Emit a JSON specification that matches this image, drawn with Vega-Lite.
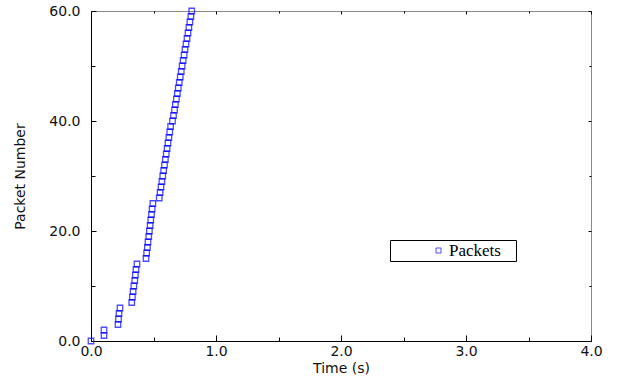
{
  "$schema": "https://vega.github.io/schema/vega-lite/v6.json",
  "width": 500,
  "height": 330,
  "autosize": "none",
  "padding": {"left": 91, "top": 11, "right": 30, "bottom": 46},
  "background": "white",
  "config": {
    "view": {"stroke": "#8a8a8a", "strokeWidth": 1},
    "axis": {
      "labelFont": "DejaVu Sans",
      "labelFontSize": 14,
      "labelColor": "#111",
      "labelFlush": false,
      "titleFont": "DejaVu Sans",
      "titleFontSize": 14,
      "titleFontWeight": "normal",
      "titleColor": "#111",
      "domainColor": "#000",
      "tickColor": "#000",
      "grid": false
    }
  },
  "data": {
    "values": [
      {"t": 0.0, "n": 0, "series": "Packets"},
      {"t": 0.104, "n": 1, "series": "Packets"},
      {"t": 0.104, "n": 2, "series": "Packets"},
      {"t": 0.216, "n": 3, "series": "Packets"},
      {"t": 0.22, "n": 4, "series": "Packets"},
      {"t": 0.224, "n": 5, "series": "Packets"},
      {"t": 0.232, "n": 6, "series": "Packets"},
      {"t": 0.326, "n": 7, "series": "Packets"},
      {"t": 0.331, "n": 8, "series": "Packets"},
      {"t": 0.337, "n": 9, "series": "Packets"},
      {"t": 0.343, "n": 10, "series": "Packets"},
      {"t": 0.35, "n": 11, "series": "Packets"},
      {"t": 0.355, "n": 12, "series": "Packets"},
      {"t": 0.36, "n": 13, "series": "Packets"},
      {"t": 0.368, "n": 14, "series": "Packets"},
      {"t": 0.44, "n": 15, "series": "Packets"},
      {"t": 0.445, "n": 16, "series": "Packets"},
      {"t": 0.451, "n": 17, "series": "Packets"},
      {"t": 0.456, "n": 18, "series": "Packets"},
      {"t": 0.462, "n": 19, "series": "Packets"},
      {"t": 0.467, "n": 20, "series": "Packets"},
      {"t": 0.473, "n": 21, "series": "Packets"},
      {"t": 0.478, "n": 22, "series": "Packets"},
      {"t": 0.484, "n": 23, "series": "Packets"},
      {"t": 0.489, "n": 24, "series": "Packets"},
      {"t": 0.495, "n": 25, "series": "Packets"},
      {"t": 0.546, "n": 26, "series": "Packets"},
      {"t": 0.553, "n": 27, "series": "Packets"},
      {"t": 0.56, "n": 28, "series": "Packets"},
      {"t": 0.567, "n": 29, "series": "Packets"},
      {"t": 0.574, "n": 30, "series": "Packets"},
      {"t": 0.581, "n": 31, "series": "Packets"},
      {"t": 0.588, "n": 32, "series": "Packets"},
      {"t": 0.595, "n": 33, "series": "Packets"},
      {"t": 0.602, "n": 34, "series": "Packets"},
      {"t": 0.609, "n": 35, "series": "Packets"},
      {"t": 0.616, "n": 36, "series": "Packets"},
      {"t": 0.623, "n": 37, "series": "Packets"},
      {"t": 0.63, "n": 38, "series": "Packets"},
      {"t": 0.637, "n": 39, "series": "Packets"},
      {"t": 0.652, "n": 40, "series": "Packets"},
      {"t": 0.66, "n": 41, "series": "Packets"},
      {"t": 0.668, "n": 42, "series": "Packets"},
      {"t": 0.675, "n": 43, "series": "Packets"},
      {"t": 0.683, "n": 44, "series": "Packets"},
      {"t": 0.691, "n": 45, "series": "Packets"},
      {"t": 0.698, "n": 46, "series": "Packets"},
      {"t": 0.706, "n": 47, "series": "Packets"},
      {"t": 0.714, "n": 48, "series": "Packets"},
      {"t": 0.722, "n": 49, "series": "Packets"},
      {"t": 0.729, "n": 50, "series": "Packets"},
      {"t": 0.737, "n": 51, "series": "Packets"},
      {"t": 0.745, "n": 52, "series": "Packets"},
      {"t": 0.752, "n": 53, "series": "Packets"},
      {"t": 0.76, "n": 54, "series": "Packets"},
      {"t": 0.768, "n": 55, "series": "Packets"},
      {"t": 0.776, "n": 56, "series": "Packets"},
      {"t": 0.783, "n": 57, "series": "Packets"},
      {"t": 0.791, "n": 58, "series": "Packets"},
      {"t": 0.799, "n": 59, "series": "Packets"},
      {"t": 0.806, "n": 60, "series": "Packets"}
    ]
  },
  "layer": [
    {
      "mark": {"type": "point", "opacity": 0},
      "encoding": {
        "x": {"field": "t", "type": "quantitative", "scale": {"domain": [0, 4], "nice": false, "zero": false, "padding": 0},
          "axis": {"orient": "bottom", "values": [0, 1, 2, 3, 4], "format": ".1f", "ticks": false, "domain": false, "labelPadding": 3, "title": "Time (s)", "titlePadding": 3}},
        "y": {"field": "n", "type": "quantitative", "scale": {"domain": [0, 60], "nice": false, "padding": 0},
          "axis": {"orient": "left", "values": [0, 20, 40, 60], "format": ".1f", "ticks": false, "domain": false, "labelPadding": 11, "title": "Packet Number", "titlePadding": 21}}
      }
    },
    {
      "mark": {"type": "point", "opacity": 0},
      "encoding": {
        "x": {"field": "t", "type": "quantitative", "scale": {"domain": [0, 4], "nice": false, "zero": false, "padding": 0},
          "axis": {"orient": "bottom", "values": [0, 1, 2, 3, 4], "labels": false, "tickSize": -6, "domain": true, "domainColor": "#000", "title": null}},
        "y": {"field": "n", "type": "quantitative", "scale": {"domain": [0, 60], "nice": false, "padding": 0},
          "axis": {"orient": "left", "values": [0, 20, 40, 60], "labels": false, "tickSize": -5, "domain": true, "domainColor": "#000", "title": null}}
      }
    },
    {
      "mark": {"type": "point", "opacity": 0},
      "encoding": {
        "x": {"field": "t", "type": "quantitative", "scale": {"domain": [0, 4], "nice": false, "zero": false, "padding": 0},
          "axis": {"orient": "bottom", "values": [0.5, 1.5, 2.5, 3.5], "labels": false, "tickSize": -4, "domain": false, "title": null}},
        "y": {"field": "n", "type": "quantitative", "scale": {"domain": [0, 60], "nice": false, "padding": 0},
          "axis": {"orient": "left", "values": [10, 30, 50], "labels": false, "tickSize": -4, "domain": false, "title": null}}
      }
    },
    {
      "mark": {"type": "point", "opacity": 0},
      "encoding": {
        "x": {"field": "t", "type": "quantitative", "scale": {"domain": [0, 4], "nice": false, "zero": false, "padding": 0},
          "axis": {"orient": "top", "values": [0, 1, 2, 3, 4], "labels": false, "tickSize": -3, "domain": false, "title": null}},
        "y": {"field": "n", "type": "quantitative", "scale": {"domain": [0, 60], "nice": false, "padding": 0},
          "axis": {"orient": "right", "values": [0, 20, 40, 60], "labels": false, "tickSize": -3, "domain": false, "title": null}}
      }
    },
    {
      "mark": {"type": "point", "opacity": 0},
      "encoding": {
        "x": {"field": "t", "type": "quantitative", "scale": {"domain": [0, 4], "nice": false, "zero": false, "padding": 0},
          "axis": {"orient": "top", "values": [0.5, 1.5, 2.5, 3.5], "labels": false, "tickSize": -2, "domain": false, "title": null}},
        "y": {"field": "n", "type": "quantitative", "scale": {"domain": [0, 60], "nice": false, "padding": 0},
          "axis": {"orient": "right", "values": [10, 30, 50], "labels": false, "tickSize": -2, "domain": false, "title": null}}
      }
    },
    {
      "mark": {"type": "point", "shape": "square", "filled": false, "size": 30, "strokeWidth": 1.3},
      "encoding": {
        "x": {"field": "t", "type": "quantitative", "scale": {"domain": [0, 4], "nice": false, "zero": false, "padding": 0}, "axis": null},
        "y": {"field": "n", "type": "quantitative", "scale": {"domain": [0, 60], "nice": false, "padding": 0}, "axis": null},
        "color": {"field": "series", "type": "nominal", "scale": {"range": ["#0000ff"]},
          "legend": {
            "title": null,
            "orient": "none",
            "legendX": 299,
            "legendY": 229,
            "strokeColor": "#000",
            "fillColor": "#fff",
            "padding": 2,
            "symbolType": "square",
            "symbolSize": 25,
            "symbolStrokeWidth": 1,
            "symbolOffset": 38,
            "labelOffset": 2,
            "labelExpr": "datum.label + '   \u200b'",
            "labelFont": "Liberation Serif",
            "labelFontSize": 17,
            "labelColor": "#000"
          }}
      }
    }
  ],
  "resolve": {"axis": {"x": "independent", "y": "independent"}}
}
